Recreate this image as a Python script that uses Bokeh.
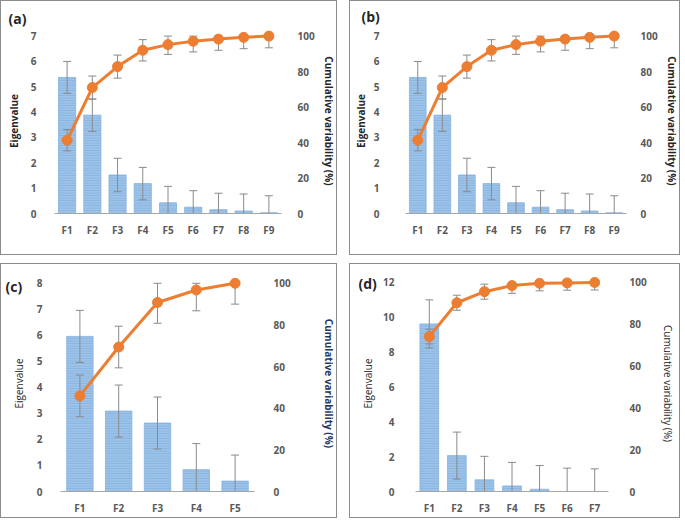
import numpy as np
from bokeh.plotting import figure
from bokeh.models import Range1d, LinearAxis, FactorRange, Title, FixedTicker, ColumnDataSource
from bokeh.layouts import row, column
from bokeh.embed import file_html
from bokeh.resources import INLINE

# ---------------- data ----------------
a_factors = ["F1", "F2", "F3", "F4", "F5", "F6", "F7", "F8", "F9"]
a_eigen = [5.37, 3.88, 1.52, 1.18, 0.42, 0.25, 0.15, 0.10, 0.03]
a_eigen_err = [0.63, 0.64, 0.66, 0.64, 0.65, 0.65, 0.65, 0.67, 0.67]
a_cum = [41.3, 71.0, 82.8, 92.0, 95.2, 97.1, 98.3, 99.3, 100.0]
a_cum_err = [6.0, 6.5, 6.5, 6.0, 5.5, 6.0, 6.3, 6.4, 6.6]

b_factors = ["F1", "F2", "F3", "F4", "F5", "F6", "F7", "F8", "F9"]
b_eigen = [5.37, 3.88, 1.52, 1.18, 0.42, 0.25, 0.15, 0.10, 0.03]
b_eigen_err = [0.63, 0.64, 0.66, 0.64, 0.65, 0.65, 0.65, 0.67, 0.67]
b_cum = [41.3, 71.0, 82.8, 92.0, 95.2, 97.1, 98.3, 99.3, 100.0]
b_cum_err = [6.0, 6.5, 6.5, 6.0, 5.5, 6.0, 6.3, 6.4, 6.6]

c_factors = ["F1", "F2", "F3", "F4", "F5"]
c_eigen = [5.96, 3.09, 2.63, 0.84, 0.40]
c_eigen_err = [1.0, 1.0, 1.0, 1.0, 1.0]
c_cum = [45.9, 69.4, 90.8, 96.8, 100.0]
c_cum_err = [10.0, 10.0, 10.0, 10.0, 10.0]

d_factors = ["F1", "F2", "F3", "F4", "F5", "F6", "F7"]
d_eigen = [9.62, 2.06, 0.67, 0.32, 0.13, 0.0, 0.0]
d_eigen_err = [1.38, 1.35, 1.35, 1.35, 1.36, 1.34, 1.30]
d_cum = [74.1, 90.3, 95.6, 98.5, 99.6, 99.8, 100.0]
d_cum_err = [3.5, 3.6, 3.6, 3.7, 3.6, 3.5, 3.6]

ab_left_ticks = [0, 1, 2, 3, 4, 5, 6, 7]
c_left_ticks = [0, 1, 2, 3, 4, 5, 6, 7, 8]
d_left_ticks = [0, 2, 4, 6, 8, 10, 12]
right_ticks = [0, 20, 40, 60, 80, 100]

FONT = "Open Sans"
TICK_COLOR = "#595959"
BAR_FILL = "#9dc3e8"
BAR_HATCH = "#74a6da"
ORANGE = "#ed7d31"
ERR_COLOR = "#8a8a8a"


def make_panel(tag, factors, eigen, eigen_err, cum, cum_err, left_ticks, pad,
               width, height, mb, std, title_styles, tag_pos):
    ytop = left_ticks[-1]
    ymax = ytop + pad
    p = figure(width=width, height=height, x_range=FactorRange(*factors, range_padding=0),
               y_range=Range1d(0, ymax), output_backend="svg", toolbar_location=None,
               min_border_left=mb[0], min_border_right=mb[1], min_border_top=mb[2],
               min_border_bottom=mb[3], outline_line_color=None,
               title=Title(text=tag, align="left", vertical_align="bottom",
                           offset=tag_pos[0], standoff=tag_pos[1],
                           text_font=FONT, text_font_style="bold", text_font_size="14px",
                           text_color="#262626"),
               styles={"border": "1px solid #8c8c8c", "box-sizing": "border-box"})
    p.extra_y_ranges = {"cum": Range1d(0, 100.0 * ymax / ytop)}
    p.xgrid.grid_line_color = None
    p.ygrid.grid_line_color = None

    e = np.array(eigen)
    ee = np.array(eigen_err)
    c = np.array(cum)
    ce = np.array(cum_err)
    src = ColumnDataSource(dict(
        x=factors, eig=e, elo=np.maximum(e - ee, 0), ehi=e + ee,
        cum=c, clo=c - ce, chi=np.minimum(c + ce, 100.0)))

    p.vbar(x="x", top="eig", width=0.68, source=src, fill_color=BAR_FILL,
           line_color="#86b3e0", line_width=0.8, hatch_pattern="horizontal_line",
           hatch_color=BAR_HATCH, hatch_scale=2.5, hatch_weight=0.8, hatch_alpha=0.7)
    # eigenvalue error bars
    p.segment(x0="x", y0="elo", x1="x", y1="ehi", source=src, line_color=ERR_COLOR, line_width=1)
    p.scatter(x="x", y="ehi", marker="dash", size=8, source=src, line_color=ERR_COLOR, line_width=1)
    p.scatter(x="x", y="elo", marker="dash", size=8, source=src, line_color=ERR_COLOR, line_width=1)
    # cumulative error bars
    p.segment(x0="x", y0="clo", x1="x", y1="chi", source=src, line_color=ERR_COLOR,
              line_width=1, y_range_name="cum")
    p.scatter(x="x", y="chi", marker="dash", size=8, source=src, line_color=ERR_COLOR,
              line_width=1, y_range_name="cum")
    p.scatter(x="x", y="clo", marker="dash", size=8, source=src, line_color=ERR_COLOR,
              line_width=1, y_range_name="cum")
    # cumulative line
    p.line(x="x", y="cum", source=src, line_color=ORANGE, line_width=3, y_range_name="cum")
    p.scatter(x="x", y="cum", source=src, size=10, fill_color=ORANGE, line_color=ORANGE,
              y_range_name="cum")

    # axes
    xa = p.xaxis[0]
    xa.axis_line_color = "#a6a6a6"
    xa.major_tick_line_color = None
    xa.minor_tick_line_color = None
    xa.major_label_standoff = std["x"]
    xa.major_label_text_font = FONT
    xa.major_label_text_font_style = "bold"
    xa.major_label_text_font_size = "10px"
    xa.major_label_text_color = TICK_COLOR

    ya = p.yaxis[0]
    ya.ticker = FixedTicker(ticks=left_ticks)
    ya.axis_label = "Eigenvalue"
    ra = LinearAxis(y_range_name="cum", ticker=FixedTicker(ticks=right_ticks),
                    axis_label="Cumulative variability (%)")
    p.add_layout(ra, "right")
    for ax, key, ts in ((ya, "l", title_styles[0]), (ra, "r", title_styles[1])):
        ax.axis_line_color = None
        ax.major_tick_line_color = None
        ax.minor_tick_line_color = None
        ax.major_label_standoff = std[key]
        ax.axis_label_standoff = std[key + "t"]
        ax.major_label_text_font = FONT
        ax.major_label_text_font_style = "bold"
        ax.major_label_text_font_size = "10px"
        ax.major_label_text_color = TICK_COLOR
        ax.axis_label_text_font = FONT
        ax.axis_label_text_font_size = "10px"
        ax.axis_label_text_font_style = ts[0]
        ax.axis_label_text_color = ts[1]
    return p


pa = make_panel("(a)", a_factors, a_eigen, a_eigen_err, a_cum, a_cum_err, ab_left_ticks, 0.3,
                337, 255, (53, 46, 27, 43), dict(x=3, l=12, lt=7, r=10, rt=4),
                (("bold", "#262626"), ("bold", "#262626")), (-46, 2))
pb = make_panel("(b)", b_factors, b_eigen, b_eigen_err, b_cum, b_cum_err, ab_left_ticks, 0.3,
                331, 255, (52, 46, 27, 43), dict(x=3, l=20, lt=3, r=8, rt=4),
                (("bold", "#262626"), ("bold", "#262626")), (-44, 6))
pc = make_panel("(c)", c_factors, c_eigen, c_eigen_err, c_cum, c_cum_err, c_left_ticks, 0.3,
                337, 255, (59, 71, 9, 28), dict(x=3, l=12, lt=8, r=13, rt=28),
                (("normal", "#262626"), ("bold", "#1f3864")), (-55, -40))
pd_ = make_panel("(d)", d_factors, d_eigen, d_eigen_err, d_cum, d_cum_err, d_left_ticks, 0.4,
                 331, 255, (65, 73, 11, 28), dict(x=3, l=15, lt=5, r=15, rt=11),
                 (("normal", "#262626"), ("normal", "#262626")), (-57, -34))

layout = column(row(pa, pb, spacing=12), row(pc, pd_, spacing=12), spacing=8)
open("out.html", "w").write(file_html(layout, INLINE))
